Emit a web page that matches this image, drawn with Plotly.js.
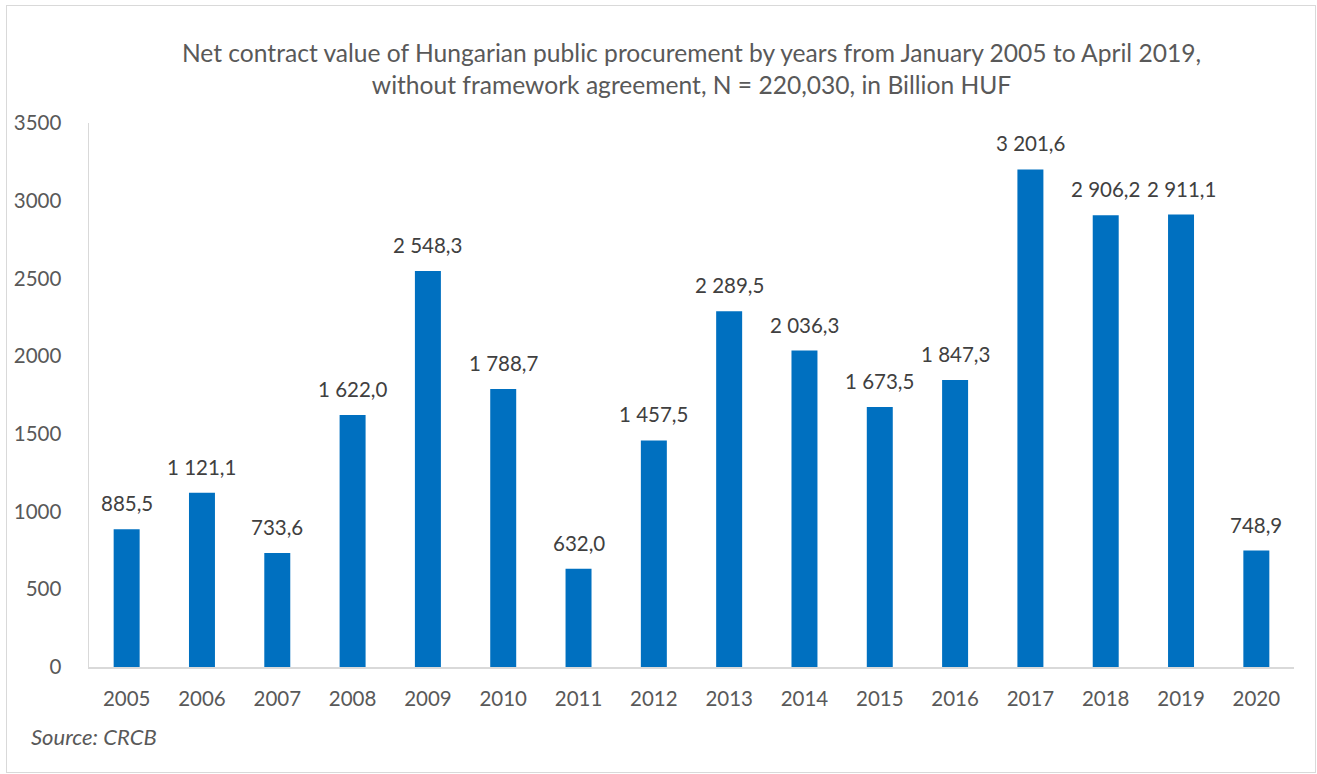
<!DOCTYPE html>
<html><head><meta charset="utf-8">
<script src="https://cdn.plot.ly/plotly-3.0.1.min.js"></script>
<style>body{margin:0;background:#fff}#wrap{position:relative;width:1317px;height:774px}#chart{width:1317px;height:774px}#frame{position:absolute;left:6px;top:5px;width:1308px;height:766px;border:1px solid #d9d9d9;pointer-events:none}</style>
</head><body><div id="wrap"><div id="chart"></div><div id="frame"></div></div>
<script>
const years = ["2005","2006","2007","2008","2009","2010","2011","2012","2013","2014","2015","2016","2017","2018","2019","2020"];
const values = [885.5,1121.1,733.6,1622.0,2548.3,1788.7,632.0,1457.5,2289.5,2036.3,1673.5,1847.3,3201.6,2906.2,2911.1,748.9];
const yTicks = [0,500,1000,1500,2000,2500,3000,3500];
const titleText = "Net contract value of Hungarian public procurement by years from January 2005 to April 2019,<br>without framework agreement, N = 220,030, in Billion HUF";
const sourceText = "Source: CRCB";

const FONT = "Lato, 'Open Sans', sans-serif";
const GREY = "#595959";
function fmt(v){
  const s = v.toFixed(1).split(".");
  const int = s[0].replace(/\B(?=(\d{3})+(?!\d))/g, " ");
  return int + "," + s[1];
}
const ann = years.map((y,i)=>({x:i,y:values[i],xref:"x",yref:"y",text:fmt(values[i]),showarrow:false,yanchor:"bottom",yshift:12,font:{family:FONT,size:20.5,color:"#404040"}}));
ann.push({xref:"paper",yref:"paper",x:-0.05,y:-0.1,xanchor:"left",yanchor:"top",text:"<i>"+sourceText+"</i>",showarrow:false,font:{family:FONT,size:22,color:GREY}});

Plotly.newPlot("chart",[{
  type:"bar",x:years,y:values,marker:{color:"#0070C0",line:{width:0}},hoverinfo:"x+y"
}],{
  width:1317,height:774,
  margin:{l:89,r:23,t:123,b:107,pad:0},
  paper_bgcolor:"#fff",plot_bgcolor:"#fff",
  bargap:0.655,
  showlegend:false,
  title:{text:titleText,x:0.5,xref:"paper",xanchor:"center",y:0.92,yanchor:"top",font:{family:FONT,size:24.6,color:GREY}},
  xaxis:{type:"category",categoryarray:years,range:[-0.5,15.5],autorange:false,showgrid:false,showline:true,linecolor:"#d9d9d9",linewidth:1.5,ticks:"",tickfont:{family:FONT,size:20.5,color:GREY},ticklabelstandoff:13,zeroline:false},
  yaxis:{range:[0,3500],autorange:false,tickvals:yTicks,ticktext:yTicks.map(String),showgrid:false,showline:true,linecolor:"#d9d9d9",linewidth:1.5,ticks:"",tickfont:{family:FONT,size:20.5,color:GREY},ticklabelstandoff:22,zeroline:false},
  annotations:ann
},{displayModeBar:false,staticPlot:true});
</script></body></html>
